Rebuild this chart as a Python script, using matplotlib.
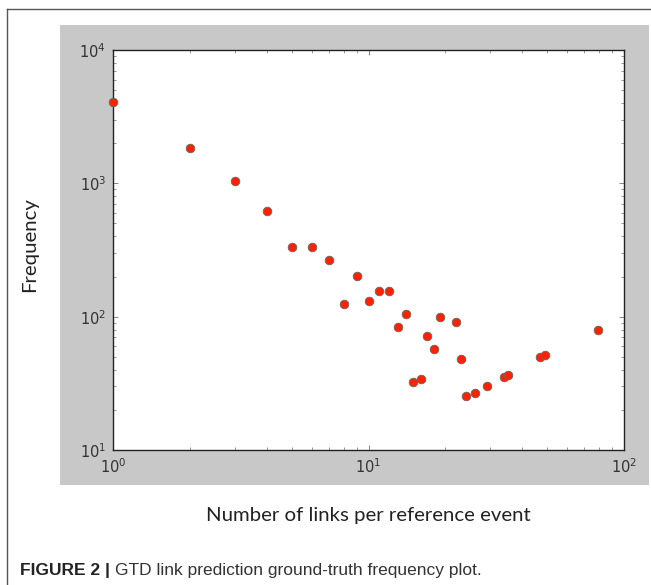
import matplotlib.pyplot as plt
from matplotlib.patches import Rectangle
from matplotlib.lines import Line2D
from matplotlib.ticker import LogLocator, NullFormatter

#  Data 
links = [1, 2, 3, 4, 5, 6, 7, 8, 9, 10, 11, 12, 13, 14, 15, 16, 17, 18, 19,
         22, 23, 24, 26, 29, 34, 35, 47, 49, 79]
freq = [4070, 1840, 1040, 620, 333, 333, 266, 124, 202, 131, 156, 156, 84, 105,
        32.4, 34, 71.6, 57, 99, 91, 48, 25.4, 26.8, 30.2, 35.3, 36.4, 49.8, 51.6, 79]

XLABEL = "Number of links per reference event"
YLABEL = "Frequency"
CAPTION_BOLD = "FIGURE 2 | "
CAPTION = "GTD link prediction ground-truth frequency plot."

W, H = 651, 585
fig = plt.figure(figsize=(W / 100, H / 100), dpi=100)

# gray panel behind the axes
fig.patches.append(Rectangle((60 / W, 1 - 485 / H), (649 - 60) / W, (485 - 25) / H,
                             transform=fig.transFigure, facecolor="#c8c8c8",
                             edgecolor="none", zorder=-5))
# thin frame on top / left
fig.lines.append(Line2D([7 / W, 1], [1 - 9 / H, 1 - 9 / H], transform=fig.transFigure,
                        color="#555555", lw=1, zorder=-5))
fig.lines.append(Line2D([7 / W, 7 / W], [0, 1 - 9 / H], transform=fig.transFigure,
                        color="#555555", lw=1, zorder=-5))

ax = fig.add_axes([113 / W, 1 - 450 / H, (624 - 113) / W, (450 - 50) / H])
ax.set_facecolor("white")
ax.plot(links, freq, "o", color="#ff2200", markeredgecolor="#666666",
        markeredgewidth=0.6, markersize=6.2, clip_on=False, zorder=3)
ax.set_xscale("log")
ax.set_yscale("log")
ax.set_xlim(1, 100)
ax.set_ylim(10, 10000)

ax.xaxis.set_minor_locator(LogLocator(subs=range(2, 10)))
ax.yaxis.set_minor_locator(LogLocator(subs=range(2, 10)))
ax.xaxis.set_minor_formatter(NullFormatter())
ax.yaxis.set_minor_formatter(NullFormatter())
ax.tick_params(which="both", direction="in", top=True, right=True,
               color="#888888", labelcolor="#333333", labelsize=10.5)
ax.tick_params(which="major", length=3.5, width=0.7)
ax.tick_params(which="minor", length=2, width=0.6)
ax.tick_params(axis="x", pad=5)
ax.tick_params(axis="y", pad=5)
for s in ax.spines.values():
    s.set_color("#222222")
    s.set_linewidth(1.0)

fig.text(368 / W, 1 - 515 / H, XLABEL, ha="center", va="center",
         fontsize=14.7, family="Lato", color="#222222")
fig.text(30 / W, 1 - 245 / H, YLABEL, ha="center", va="center", rotation=90,
         fontsize=14.7, family="Lato", color="#222222")

t1 = fig.text(20 / W, 1 - 575 / H, CAPTION_BOLD, ha="left", va="baseline",
              fontsize=12.5, family="Liberation Sans", weight="bold", color="#222222")
ax.annotate(CAPTION, xy=(1, 0), xycoords=t1, ha="left", va="bottom",
            fontsize=12.5, family="Liberation Sans", color="#333333",
            annotation_clip=False)

fig.savefig("out.png", dpi=100)
